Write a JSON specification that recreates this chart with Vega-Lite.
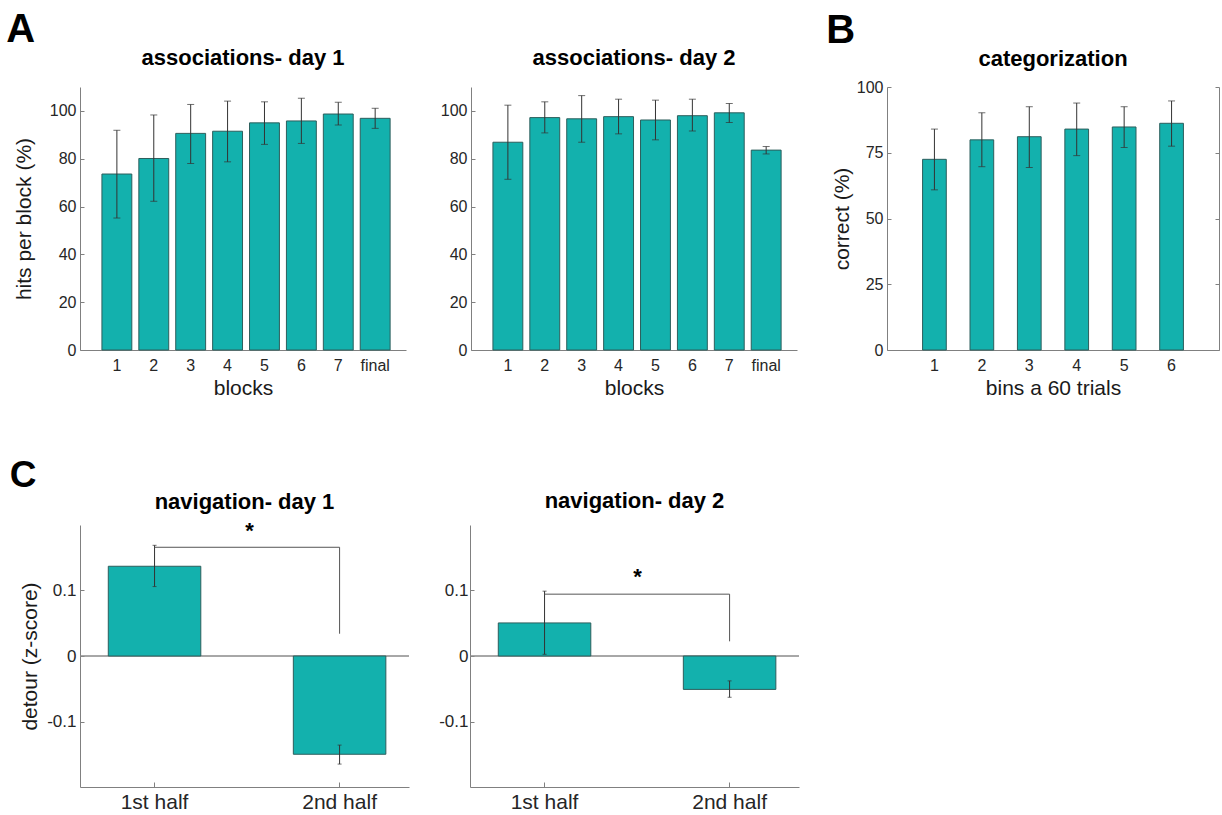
{
  "$schema": "https://vega.github.io/schema/vega-lite/v6.json",
  "background": "white",
  "padding": {"left": 6, "top": 10, "right": 0, "bottom": 0},
  "autosize": {"type": "pad"},
  "config": {
    "view": {"stroke": null},
    "font": "Liberation Sans",
    "axis": {
      "domainColor": "#808080", "tickColor": "#808080", "labelColor": "#262626", "titleColor": "#1a1a1a",
      "labelFont": "Liberation Sans", "titleFont": "Liberation Sans", "titleFontWeight": "normal",
      "labelFontSize": 16, "titleFontSize": 21, "grid": false, "domainWidth": 1, "tickWidth": 1
    },
    "title": {"font": "Liberation Sans", "fontWeight": "bold", "fontSize": 22, "color": "#000000"}
  },
  "datasets": {
    "day1": [
      {"block": "1", "mean": 73.6, "lo": 55.2, "hi": 91.9},
      {"block": "2", "mean": 80.1, "lo": 62.2, "hi": 98.3},
      {"block": "3", "mean": 90.6, "lo": 78.0, "hi": 102.7},
      {"block": "4", "mean": 91.5, "lo": 78.7, "hi": 104.1},
      {"block": "5", "mean": 95.0, "lo": 86.0, "hi": 103.8},
      {"block": "6", "mean": 95.8, "lo": 86.4, "hi": 105.3},
      {"block": "7", "mean": 98.7, "lo": 94.1, "hi": 103.6},
      {"block": "final", "mean": 96.9, "lo": 92.7, "hi": 101.1}
    ],
    "day2": [
      {"block": "1", "mean": 86.9, "lo": 71.4, "hi": 102.4},
      {"block": "2", "mean": 97.2, "lo": 90.8, "hi": 103.8},
      {"block": "3", "mean": 96.7, "lo": 86.9, "hi": 106.4},
      {"block": "4", "mean": 97.6, "lo": 90.4, "hi": 104.9},
      {"block": "5", "mean": 96.2, "lo": 87.9, "hi": 104.5},
      {"block": "6", "mean": 98.0, "lo": 91.6, "hi": 104.9},
      {"block": "7", "mean": 99.2, "lo": 95.1, "hi": 103.1},
      {"block": "final", "mean": 83.6, "lo": 82.0, "hi": 85.1}
    ],
    "cat": [
      {"bin": "1", "mean": 72.5, "lo": 60.9, "hi": 84.0},
      {"bin": "2", "mean": 79.9, "lo": 69.7, "hi": 90.2},
      {"bin": "3", "mean": 81.1, "lo": 69.4, "hi": 92.5},
      {"bin": "4", "mean": 84.0, "lo": 73.9, "hi": 93.9},
      {"bin": "5", "mean": 84.8, "lo": 77.0, "hi": 92.5},
      {"bin": "6", "mean": 86.2, "lo": 77.5, "hi": 94.7}
    ],
    "nav1": [
      {"half": "1st half", "mean": 0.137, "lo": 0.106, "hi": 0.169},
      {"half": "2nd half", "mean": -0.150, "lo": -0.165, "hi": -0.136}
    ],
    "nav2": [
      {"half": "1st half", "mean": 0.0505, "lo": 0.0026, "hi": 0.099},
      {"half": "2nd half", "mean": -0.051, "lo": -0.063, "hi": -0.038}
    ],
    "sig1": [{"from": "1st half", "to": "2nd half", "top": 0.166, "bottom": 0.034, "star": 0.191, "label": "*"}],
    "sig2": [{"from": "1st half", "to": "2nd half", "top": 0.0944, "bottom": 0.0224, "star": 0.120, "label": "*"}]
  },
  "spacing": 59,
  "vconcat": [
    {
      "spacing": 29,
      "hconcat": [
        {
          "title": {"text": "A", "anchor": "start", "frame": "bounds", "fontSize": 40, "offset": -3, "dx": -7},
          "spacing": 34,
          "hconcat": [
            {
              "width": 326, "height": 263,
              "title": {"text": "associations- day 1", "frame": "group", "offset": 17},
              "data": {"name": "day1"},
              "layer": [
                {
                  "mark": {"type": "bar", "fill": "#13B1AD", "stroke": "#2D5E5C", "strokeWidth": 1},
                  "encoding": {
                    "x": {"field": "block", "type": "nominal", "scale": {"domain": ["1","2","3","4","5","6","7","final"], "paddingInner": 0.19, "paddingOuter": 0.5125, "align": 0.58}, "axis": {"title": "blocks", "labelAngle": 0, "ticks": false, "labelPadding": 7, "titlePadding": 4}},
                    "y": {"field": "mean", "type": "quantitative", "title": "hits per block (%)", "scale": {"domain": [0, 110], "nice": false}, "axis": {"values": [0, 20, 40, 60, 80, 100], "tickSize": -4, "labelPadding": 8, "titlePadding": 15}}
                  }
                },
                {
                  "mark": {"type": "rule", "color": "#333333", "strokeWidth": 1},
                  "encoding": {
                    "x": {"field": "block", "type": "nominal", "title": "blocks"},
                    "y": {"field": "lo", "type": "quantitative", "title": "hits per block (%)"},
                    "y2": {"field": "hi"}
                  }
                },
                {
                  "mark": {"type": "tick", "color": "#333333", "size": 7, "thickness": 1},
                  "encoding": {
                    "x": {"field": "block", "type": "nominal", "title": "blocks"},
                    "y": {"field": "lo", "type": "quantitative", "title": "hits per block (%)"}
                  }
                },
                {
                  "mark": {"type": "tick", "color": "#333333", "size": 7, "thickness": 1},
                  "encoding": {
                    "x": {"field": "block", "type": "nominal", "title": "blocks"},
                    "y": {"field": "hi", "type": "quantitative", "title": "hits per block (%)"}
                  }
                }
              ]
            },
            {
              "width": 326, "height": 263,
              "title": {"text": "associations- day 2", "frame": "group", "offset": 17},
              "data": {"name": "day2"},
              "layer": [
                {
                  "mark": {"type": "bar", "fill": "#13B1AD", "stroke": "#2D5E5C", "strokeWidth": 1},
                  "encoding": {
                    "x": {"field": "block", "type": "nominal", "scale": {"domain": ["1","2","3","4","5","6","7","final"], "paddingInner": 0.19, "paddingOuter": 0.5125, "align": 0.58}, "axis": {"title": "blocks", "labelAngle": 0, "ticks": false, "labelPadding": 7, "titlePadding": 4}},
                    "y": {"field": "mean", "type": "quantitative", "title": null, "scale": {"domain": [0, 110], "nice": false}, "axis": {"values": [0, 20, 40, 60, 80, 100], "tickSize": -4, "labelPadding": 8}}
                  }
                },
                {
                  "mark": {"type": "rule", "color": "#333333", "strokeWidth": 1},
                  "encoding": {
                    "x": {"field": "block", "type": "nominal", "title": "blocks"},
                    "y": {"field": "lo", "type": "quantitative", "title": null},
                    "y2": {"field": "hi"}
                  }
                },
                {
                  "mark": {"type": "tick", "color": "#333333", "size": 7, "thickness": 1},
                  "encoding": {
                    "x": {"field": "block", "type": "nominal", "title": "blocks"},
                    "y": {"field": "lo", "type": "quantitative", "title": null}
                  }
                },
                {
                  "mark": {"type": "tick", "color": "#333333", "size": 7, "thickness": 1},
                  "encoding": {
                    "x": {"field": "block", "type": "nominal", "title": "blocks"},
                    "y": {"field": "hi", "type": "quantitative", "title": null}
                  }
                }
              ]
            }
          ]
        },
        {
          "title": {"text": "B", "anchor": "start", "frame": "bounds", "fontSize": 40, "offset": -3, "dx": -5},
          "vconcat": [
            {
              "width": 332, "height": 263,
              "title": {"text": "categorization", "frame": "group", "offset": 8},
              "data": {"name": "cat"},
              "resolve": {"axis": {"y": "independent"}},
              "layer": [
                {
                  "mark": {"type": "bar", "fill": "#13B1AD", "stroke": "#2D5E5C", "strokeWidth": 1},
                  "encoding": {
                    "x": {"field": "bin", "type": "nominal", "scale": {"domain": ["1","2","3","4","5","6"], "paddingInner": 0.5, "paddingOuter": 0.75}, "axis": {"title": "bins a 60 trials", "labelAngle": 0, "ticks": false, "labelPadding": 7, "titlePadding": 4}},
                    "y": {"field": "mean", "type": "quantitative", "title": "correct (%)", "scale": {"domain": [0, 100], "nice": false}, "axis": {"orient": "left", "values": [0, 25, 50, 75, 100], "tickSize": -4, "labelPadding": 8, "titlePadding": 4}}
                  }
                },
                {
                  "mark": {"type": "rule", "color": "#333333", "strokeWidth": 1},
                  "encoding": {
                    "x": {"field": "bin", "type": "nominal", "title": "bins a 60 trials"},
                    "y": {"field": "lo", "type": "quantitative", "title": null, "axis": {"orient": "right", "labels": false, "values": [0, 25, 50, 75, 100], "tickSize": -4}},
                    "y2": {"field": "hi"}
                  }
                },
                {
                  "mark": {"type": "tick", "color": "#333333", "size": 7, "thickness": 1},
                  "encoding": {
                    "x": {"field": "bin", "type": "nominal", "title": "bins a 60 trials"},
                    "y": {"field": "lo", "type": "quantitative", "axis": null}
                  }
                },
                {
                  "mark": {"type": "tick", "color": "#333333", "size": 7, "thickness": 1},
                  "encoding": {
                    "x": {"field": "bin", "type": "nominal", "title": "bins a 60 trials"},
                    "y": {"field": "hi", "type": "quantitative", "axis": null}
                  }
                }
              ]
            }
          ]
        }
      ]
    },
    {
      "title": {"text": "C", "anchor": "start", "frame": "bounds", "fontSize": 37, "offset": -5, "dx": -10},
      "spacing": 28,
      "hconcat": [
        {
          "width": 329, "height": 262,
          "title": {"text": "navigation- day 1", "frame": "group", "offset": 6},
          "layer": [
            {
              "data": {"name": "nav1"},
              "mark": {"type": "rule", "color": "#8a8a8a", "strokeWidth": 1},
              "encoding": {"y": {"datum": 0, "type": "quantitative", "title": "detour (z-score)"}}
            },
            {
              "data": {"name": "nav1"},
              "mark": {"type": "bar", "fill": "#13B1AD", "stroke": "#2D5E5C", "strokeWidth": 1},
              "encoding": {
                "x": {"field": "half", "type": "nominal", "title": null, "scale": {"domain": ["1st half", "2nd half"], "paddingInner": 0.5, "paddingOuter": 0.139, "align": 0.55}, "axis": {"labelAngle": 0, "labelFontSize": 21, "tickSize": -5, "labelPadding": 9}},
                "y": {"field": "mean", "type": "quantitative", "title": "detour (z-score)", "scale": {"domain": [-0.2, 0.2], "nice": false}, "axis": {"values": [-0.1, 0, 0.1], "labelFontSize": 17, "labelExpr": "datum.value == 0 ? '0' : replace(format(datum.value, '.1f'), '\u2212', '-')", "tickSize": -4, "labelPadding": 8, "titlePadding": 6}}
              }
            },
            {
              "data": {"name": "nav1"},
              "mark": {"type": "rule", "color": "#333333", "strokeWidth": 1},
              "encoding": {
                "x": {"field": "half", "type": "nominal", "title": null},
                "y": {"field": "lo", "type": "quantitative", "title": "detour (z-score)"},
                "y2": {"field": "hi"}
              }
            },
            {
              "data": {"name": "nav1"},
              "mark": {"type": "tick", "color": "#333333", "size": 4, "thickness": 1},
              "encoding": {
                "x": {"field": "half", "type": "nominal", "title": null},
                "y": {"field": "lo", "type": "quantitative", "title": "detour (z-score)"}
              }
            },
            {
              "data": {"name": "nav1"},
              "mark": {"type": "tick", "color": "#333333", "size": 4, "thickness": 1},
              "encoding": {
                "x": {"field": "half", "type": "nominal", "title": null},
                "y": {"field": "hi", "type": "quantitative", "title": "detour (z-score)"}
              }
            },
            {
              "data": {"name": "sig1"},
              "mark": {"type": "rule", "color": "#555555", "strokeWidth": 1},
              "encoding": {
                "x": {"field": "from", "type": "nominal", "title": null},
                "x2": {"field": "to"},
                "y": {"field": "top", "type": "quantitative", "title": "detour (z-score)"}
              }
            },
            {
              "data": {"name": "sig1"},
              "mark": {"type": "rule", "color": "#555555", "strokeWidth": 1},
              "encoding": {
                "x": {"field": "to", "type": "nominal", "title": null},
                "y": {"field": "bottom", "type": "quantitative", "title": "detour (z-score)"},
                "y2": {"field": "top"}
              }
            },
            {
              "data": {"name": "sig1"},
              "mark": {"type": "text", "fontSize": 22, "fontWeight": "bold", "color": "#000000", "baseline": "middle", "dx": 95},
              "encoding": {
                "x": {"field": "from", "type": "nominal", "title": null},
                "y": {"field": "star", "type": "quantitative", "title": "detour (z-score)"},
                "text": {"field": "label"}
              }
            }
          ]
        },
        {
          "width": 329, "height": 262,
          "title": {"text": "navigation- day 2", "frame": "group", "offset": 12},
          "layer": [
            {
              "data": {"name": "nav2"},
              "mark": {"type": "rule", "color": "#8a8a8a", "strokeWidth": 1},
              "encoding": {"y": {"datum": 0, "type": "quantitative", "title": null}}
            },
            {
              "data": {"name": "nav2"},
              "mark": {"type": "bar", "fill": "#13B1AD", "stroke": "#2D5E5C", "strokeWidth": 1},
              "encoding": {
                "x": {"field": "half", "type": "nominal", "title": null, "scale": {"domain": ["1st half", "2nd half"], "paddingInner": 0.5, "paddingOuter": 0.139, "align": 0.55}, "axis": {"labelAngle": 0, "labelFontSize": 21, "tickSize": -5, "labelPadding": 9}},
                "y": {"field": "mean", "type": "quantitative", "title": null, "scale": {"domain": [-0.2, 0.2], "nice": false}, "axis": {"values": [-0.1, 0, 0.1], "labelFontSize": 17, "labelExpr": "datum.value == 0 ? '0' : replace(format(datum.value, '.1f'), '\u2212', '-')", "tickSize": -4, "labelPadding": 6}}
              }
            },
            {
              "data": {"name": "nav2"},
              "mark": {"type": "rule", "color": "#333333", "strokeWidth": 1},
              "encoding": {
                "x": {"field": "half", "type": "nominal", "title": null},
                "y": {"field": "lo", "type": "quantitative", "title": null},
                "y2": {"field": "hi"}
              }
            },
            {
              "data": {"name": "nav2"},
              "mark": {"type": "tick", "color": "#333333", "size": 4, "thickness": 1},
              "encoding": {
                "x": {"field": "half", "type": "nominal", "title": null},
                "y": {"field": "lo", "type": "quantitative", "title": null}
              }
            },
            {
              "data": {"name": "nav2"},
              "mark": {"type": "tick", "color": "#333333", "size": 4, "thickness": 1},
              "encoding": {
                "x": {"field": "half", "type": "nominal", "title": null},
                "y": {"field": "hi", "type": "quantitative", "title": null}
              }
            },
            {
              "data": {"name": "sig2"},
              "mark": {"type": "rule", "color": "#555555", "strokeWidth": 1},
              "encoding": {
                "x": {"field": "from", "type": "nominal", "title": null},
                "x2": {"field": "to"},
                "y": {"field": "top", "type": "quantitative", "title": null}
              }
            },
            {
              "data": {"name": "sig2"},
              "mark": {"type": "rule", "color": "#555555", "strokeWidth": 1},
              "encoding": {
                "x": {"field": "to", "type": "nominal", "title": null},
                "y": {"field": "bottom", "type": "quantitative", "title": null},
                "y2": {"field": "top"}
              }
            },
            {
              "data": {"name": "sig2"},
              "mark": {"type": "text", "fontSize": 22, "fontWeight": "bold", "color": "#000000", "baseline": "middle", "dx": 93},
              "encoding": {
                "x": {"field": "from", "type": "nominal", "title": null},
                "y": {"field": "star", "type": "quantitative", "title": null},
                "text": {"field": "label"}
              }
            }
          ]
        }
      ]
    }
  ]
}
